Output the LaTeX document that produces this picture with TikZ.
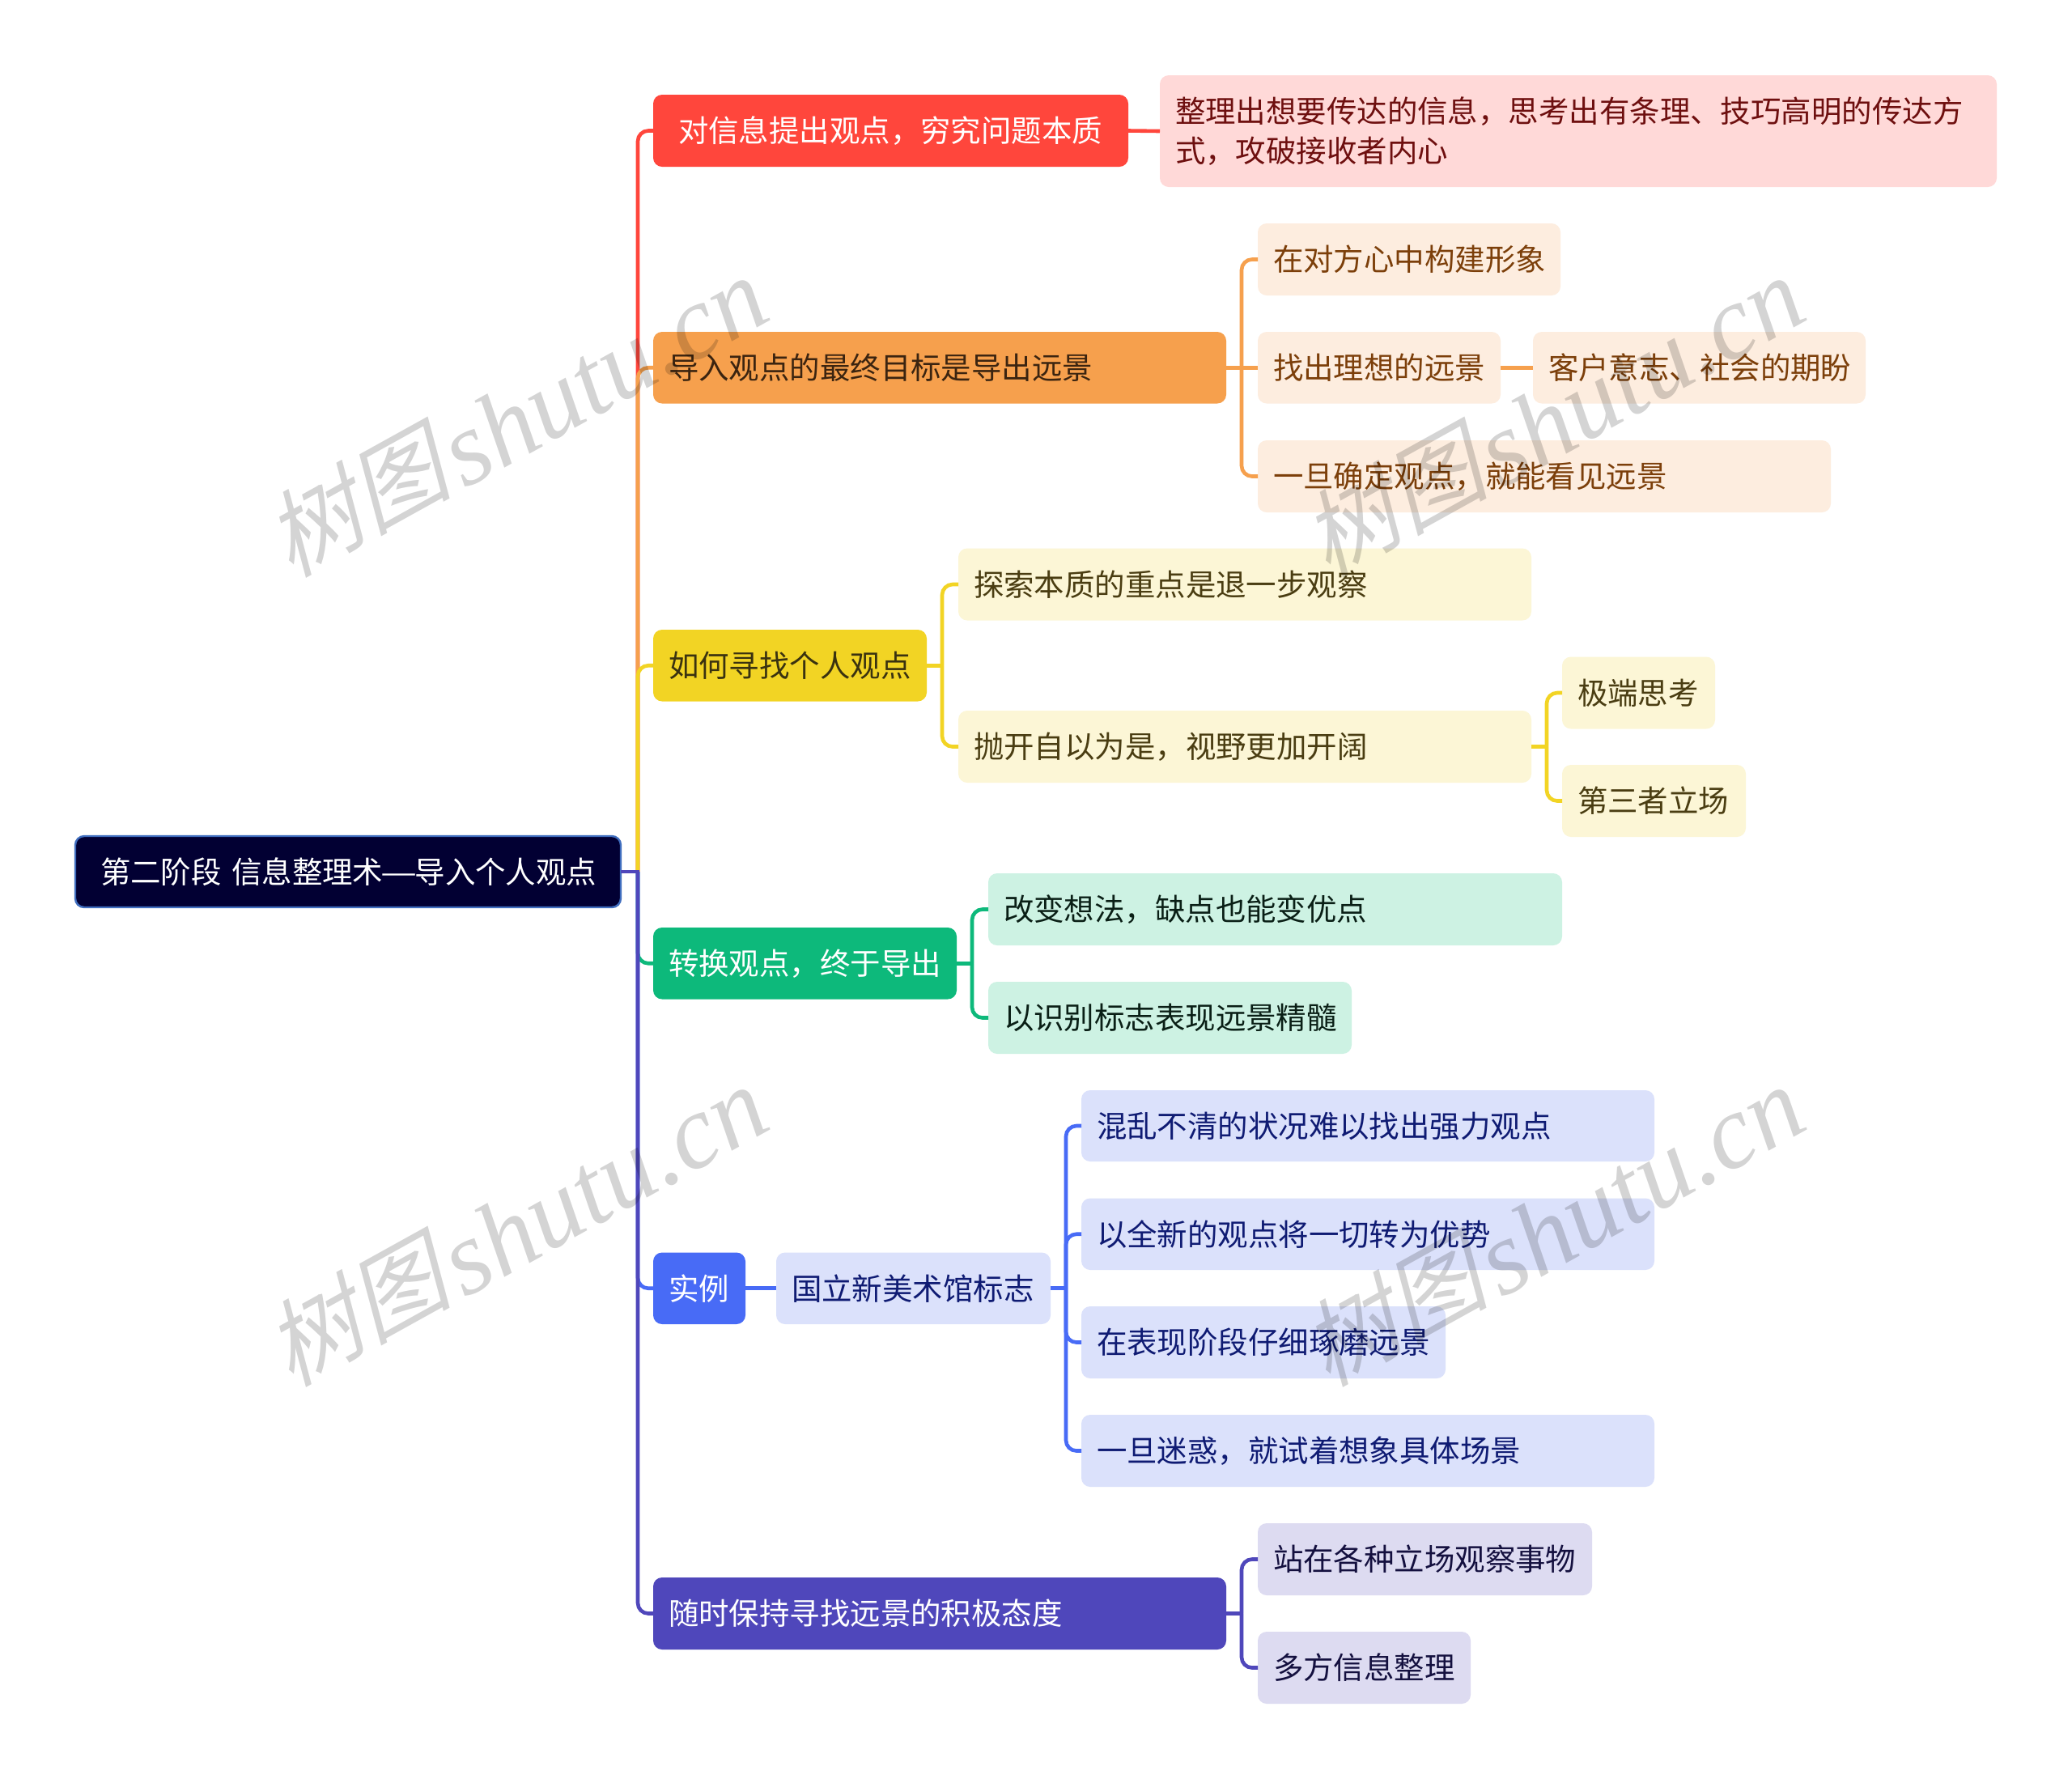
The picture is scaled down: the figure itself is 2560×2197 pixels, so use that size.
\documentclass[tikz,border=0pt]{standalone}
\usepackage{fontspec}
\setmainfont{Noto Sans CJK SC}
\newfontfamily\wmcjk[FakeSlant=0.25]{Noto Sans CJK SC}
\newfontfamily\wmlat{Liberation Serif}
\definecolor{cRoot}{HTML}{020033}
\definecolor{cRootB}{HTML}{3F6DBE}
\definecolor{cRed}{HTML}{FF463C}
\definecolor{cRedL}{HTML}{FFD9D8}
\definecolor{cRedT}{HTML}{6E0F0F}
\definecolor{cOra}{HTML}{F6A04D}
\definecolor{cOraL}{HTML}{FDEDDF}
\definecolor{cOraT}{HTML}{7C3F0A}
\definecolor{cOraD}{HTML}{3B2410}
\definecolor{cYel}{HTML}{F2D424}
\definecolor{cYelL}{HTML}{FCF6D6}
\definecolor{cYelT}{HTML}{4A3D12}
\definecolor{cYelD}{HTML}{3A3210}
\definecolor{cGre}{HTML}{0DB97B}
\definecolor{cGreL}{HTML}{CDF2E3}
\definecolor{cGreT}{HTML}{0A1F16}
\definecolor{cBlu}{HTML}{486BF6}
\definecolor{cBluL}{HTML}{DBE1FB}
\definecolor{cBluT}{HTML}{0F1B73}
\definecolor{cPur}{HTML}{4F47BB}
\definecolor{cPurL}{HTML}{DDDBF1}
\definecolor{cPurT}{HTML}{14103F}
\tikzset{
  card/.style={rectangle,rounded corners=5.5pt,outer sep=0pt,inner ysep=0pt,anchor=north west,align=left,font=\fontsize{18.72}{24.7}\selectfont},
  rootbox/.style={card,fill=cRoot,draw=cRootB,line width=1.2pt,text=white},
  redbox/.style={card,fill=cRed,text=white},
  redsub/.style={card,fill=cRedL,text=cRedT},
  orabox/.style={card,fill=cOra,text=cOraD},
  orasub/.style={card,fill=cOraL,text=cOraT},
  yelbox/.style={card,fill=cYel,text=cYelD},
  yelsub/.style={card,fill=cYelL,text=cYelT},
  grebox/.style={card,fill=cGre,text=white},
  gresub/.style={card,fill=cGreL,text=cGreT},
  blubox/.style={card,fill=cBlu,text=white},
  blusub/.style={card,fill=cBluL,text=cBluT},
  purbox/.style={card,fill=cPur,text=white},
  pursub/.style={card,fill=cPurL,text=cPurT},
  conn/.style={line width=2.3pt,rounded corners=6.5pt},
  stub/.style={line width=2.3pt,shorten >=-1.15pt},
  mark text/.style={rotate=29,text=black,text opacity=0.17,inner sep=0pt}
}
% name, style, x1, y1, x2, y2, inset (pt), text
\newcommand\bx[8]{%
  \pgfmathsetmacro\bw{(#5-#3)*0.5}%
  \pgfmathsetmacro\bh{(#6-#4)*0.5}%
  \pgfmathsetmacro\tw{\bw-2*#7}%
  \node[#2,minimum width=\bw pt,minimum height=\bh pt,inner xsep=#7pt,text width=\tw pt] (#1) at (#3,#4) {#8};}
% colour, parent, bus coordinate, child: curved branch leaving the bus at the parent's level
\newcommand\lnk[4]{\draw[conn,draw=#1] (#3 |- #2.east) -- (#3 |- #4.west) -- (#4.west);}
% colour, parent, bus coordinate: straight stub from the parent to the bus
\newcommand\stb[3]{\draw[stub,draw=#1] (#2.east) -- (#3 |- #2.east);}
\newcommand\wm[3]{\node[mark text] (#1) at (#2,#3) {\raisebox{4pt}{\fontsize{58}{58}\selectfont\wmcjk 树图}\kern5pt{\fontsize{65}{65}\selectfont\wmlat\itshape shutu.cn}};}
\begin{document}
\begin{tikzpicture}[x=0.5pt,y=-0.5pt]
\useasboundingbox (0,0) rectangle (2560,2197);
\fill[white] (0,0) rectangle (2560,2197);
\coordinate (tk) at (788,0);
\coordinate (bo) at (1534,0);
\coordinate (by) at (1164,0);
\coordinate (by2) at (1911,0);
\coordinate (bg) at (1201,0);
\coordinate (bb) at (1317,0);
\coordinate (bp) at (1534,0);

\bx{root}{rootbox}{93}{1033}{767}{1121}{15.5}{\mbox{第二阶段 信息整理术\kern-1.5pt\scalebox{1.35}[1]{—}\kern-1.5pt\relax 导入个人观点}}
\bx{red}{redbox}{807}{117}{1394}{206}{15.5}{对信息提出观点，穷究问题本质}
\bx{redA}{redsub}{1433}{93}{2467}{231}{9.5}{整理出想要传达的信息，思考出有条理、技巧高明的传达方\\式，攻破接收者内心}
\bx{ora}{orabox}{807}{410}{1515}{498.5}{9.5}{导入观点的最终目标是导出远景}
\bx{oraA}{orasub}{1554}{276}{1928}{365}{9.5}{在对方心中构建形象}
\bx{oraB}{orasub}{1554}{410}{1854}{498.5}{9.5}{找出理想的远景}
\bx{oraC}{orasub}{1894}{410}{2305}{498.5}{9.5}{客户意志、社会的期盼}
\bx{oraD}{orasub}{1554}{544}{2262}{633}{9.5}{一旦确定观点，就能看见远景}
\bx{yel}{yelbox}{807}{778}{1145}{866.5}{9.5}{如何寻找个人观点}
\bx{yelA}{yelsub}{1184}{677.5}{1892}{766.5}{9.5}{探索本质的重点是退一步观察}
\bx{yelB}{yelsub}{1184}{878}{1892}{967}{9.5}{抛开自以为是，视野更加开阔}
\bx{yelC}{yelsub}{1930}{811.5}{2119}{900.5}{9.5}{极端思考}
\bx{yelD}{yelsub}{1930}{945}{2157}{1034}{9.5}{第三者立场}
\bx{gre}{grebox}{807}{1146}{1182}{1234.5}{9.5}{转换观点，终于导出}
\bx{greA}{gresub}{1221}{1079}{1930}{1168}{9.5}{改变想法，缺点也能变优点}
\bx{greB}{gresub}{1221}{1213}{1670}{1302}{9.5}{以识别标志表现远景精髓}
\bx{blu}{blubox}{807}{1547.5}{921}{1636}{9.5}{实例}
\bx{bluA}{blusub}{959}{1547.5}{1298}{1636}{9.5}{国立新美术馆标志}
\bx{bluB}{blusub}{1336}{1347}{2044}{1435}{9.5}{混乱不清的状况难以找出强力观点}
\bx{bluC}{blusub}{1336}{1480.5}{2044}{1569}{9.5}{以全新的观点将一切转为优势}
\bx{bluD}{blusub}{1336}{1614}{1786}{1703}{9.5}{在表现阶段仔细琢磨远景}
\bx{bluE}{blusub}{1336}{1748}{2044}{1837}{9.5}{一旦迷惑，就试着想象具体场景}
\bx{pur}{purbox}{807}{1949}{1515}{2038}{9.5}{随时保持寻找远景的积极态度}
\bx{purA}{pursub}{1554}{1882}{1967}{1971}{9.5}{站在各种立场观察事物}
\bx{purB}{pursub}{1554}{2016}{1817}{2105}{9.5}{多方信息整理}

\lnk{cRed}{root}{tk}{red}
\lnk{cOra}{root}{tk}{ora}
\lnk{cYel}{root}{tk}{yel}
\lnk{cGre}{root}{tk}{gre}
\lnk{cBlu}{root}{tk}{blu}
\lnk{cPur}{root}{tk}{pur}
\stb{cPur}{root}{tk}
\draw[stub,draw=cRed,shorten >=0pt] (red.east) -- (redA.west);
\lnk{cOra}{ora}{bo}{oraA}
\lnk{cOra}{ora}{bo}{oraD}
\draw[stub,draw=cOra,shorten >=0pt] (ora.east) -- (oraB.west);
\draw[stub,draw=cOra,shorten >=0pt] (oraB.east) -- (oraC.west);
\lnk{cYel}{yel}{by}{yelA}
\lnk{cYel}{yel}{by}{yelB}
\stb{cYel}{yel}{by}
\lnk{cYel}{yelB}{by2}{yelC}
\lnk{cYel}{yelB}{by2}{yelD}
\stb{cYel}{yelB}{by2}
\lnk{cGre}{gre}{bg}{greA}
\lnk{cGre}{gre}{bg}{greB}
\stb{cGre}{gre}{bg}
\draw[stub,draw=cBlu,shorten >=0pt] (blu.east) -- (bluA.west);
\lnk{cBlu}{bluA}{bb}{bluB}
\lnk{cBlu}{bluA}{bb}{bluC}
\lnk{cBlu}{bluA}{bb}{bluD}
\lnk{cBlu}{bluA}{bb}{bluE}
\stb{cBlu}{bluA}{bb}
\lnk{cPur}{pur}{bp}{purA}
\lnk{cPur}{pur}{bp}{purB}
\stb{cPur}{pur}{bp}

\wm{wa}{635}{512}
\wm{wb}{1916}{512}
\wm{wc}{635}{1512}
\wm{wd}{1916}{1512}
\end{tikzpicture}
\end{document}
